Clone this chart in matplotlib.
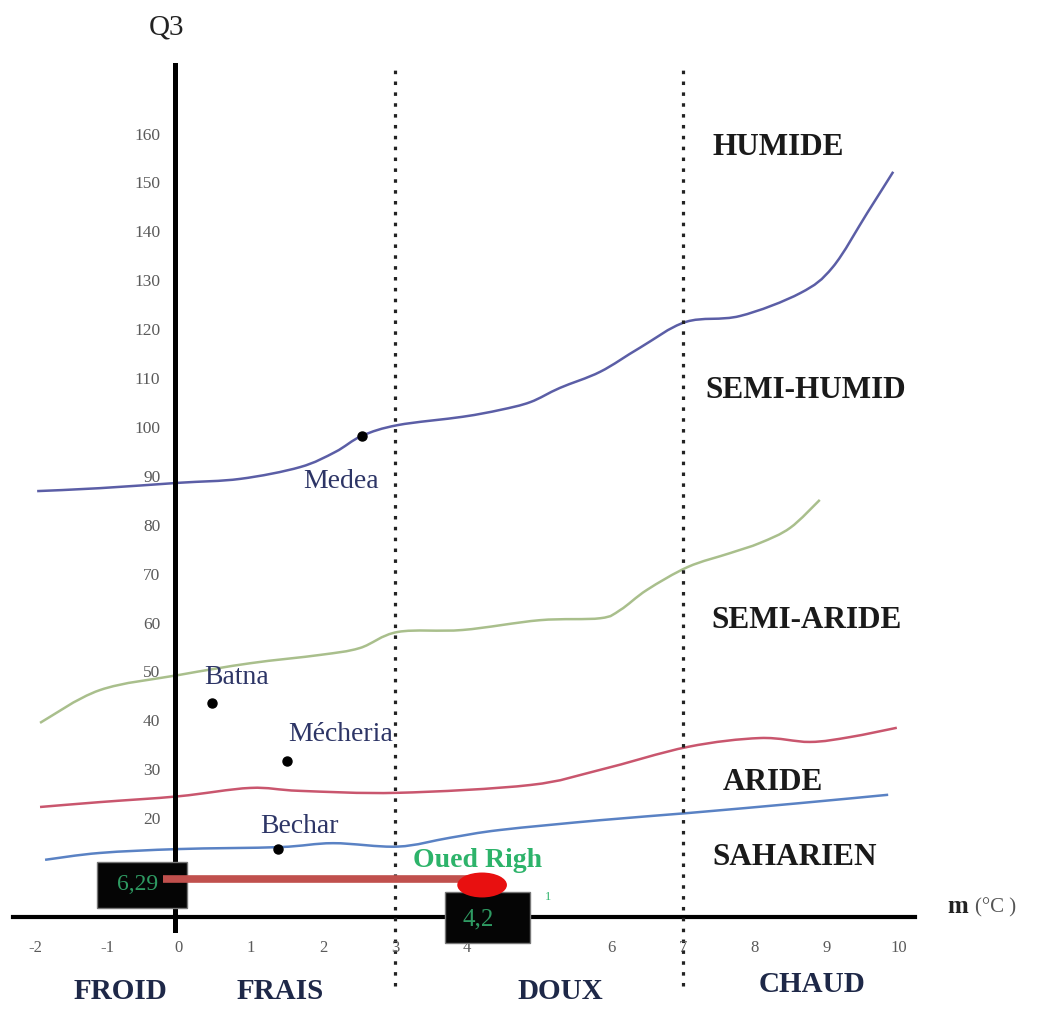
import numpy as np
import matplotlib.pyplot as plt
from matplotlib.patches import Rectangle, Ellipse, PathPatch
from matplotlib.path import Path

plt.rcParams['font.family'] = ['Liberation Serif', 'DejaVu Serif']

# courbes limites des etages (m en degres C, Q3)
humide_m = [-1.97, -1.1, 0, 0.85, 1.68, 2.17, 2.54, 3.04, 3.94, 4.46, 4.88, 5.29, 5.85, 6.4, 7.04, 7.79, 8.63, 9.08, 9.56, 9.92]
humide_q = [87.3, 87.9, 89.0, 89.8, 92.2, 95.3, 98.6, 100.8, 102.5, 103.9, 105.5, 108.4, 111.7, 116.6, 121.9, 123.1, 127.8, 133.1, 144.2, 152.6]

semi_m = [-1.93, -1.1, 0, 0.99, 1.96, 2.51, 3.04, 3.94, 5.01, 5.85, 6.13, 6.5, 7.07, 7.65, 8.07, 8.49, 8.9]
semi_q = [39.9, 46.6, 49.7, 52.1, 53.8, 55.2, 58.5, 58.9, 60.9, 61.3, 63.0, 67.1, 71.8, 74.6, 76.7, 79.8, 85.5]

aride_m = [-1.93, -1.1, 0, 0.99, 1.68, 3.04, 4.88, 5.85, 7.07, 8.07, 8.76, 9.32, 9.97]
aride_q = [22.7, 23.7, 24.9, 26.6, 26.0, 25.6, 27.2, 30.3, 35.0, 36.8, 36.0, 37.0, 38.9]

sahara_m = [-1.86, -1.1, 0, 1.4, 2.14, 3.04, 3.76, 4.46, 5.85, 7.1, 8.63, 9.85]
sahara_q = [11.9, 13.3, 14.1, 14.5, 15.3, 14.6, 16.4, 18.0, 20.0, 21.5, 23.5, 25.2]

# stations
stations = ['Medea', 'Batna', 'Mécheria', 'Bechar']
station_m = [2.54, 0.46, 1.5, 1.38]
station_q = [98.6, 44.0, 32.1, 14.1]

# Oued Righ
oued_m = 4.2
oued_q = 6.29

xticks = [-2, -1, 0, 1, 2, 3, 4, 6, 7, 8, 9, 10]
yticks = [20, 30, 40, 50, 60, 70, 80, 90, 100, 110, 120, 130, 140, 150, 160]


def courbe(ax, xs, ys, color):
    # trace lisse (bezier) passant par les points lus
    p = np.column_stack([xs, ys])
    verts = [tuple(p[0])]
    codes = [Path.MOVETO]
    for i in range(len(p) - 1):
        p0 = p[i - 1] if i > 0 else p[i]
        p3 = p[i + 2] if i + 2 < len(p) else p[i + 1]
        c1 = p[i] + (p[i + 1] - p0) / 6
        c2 = p[i + 1] - (p3 - p[i]) / 6
        verts += [tuple(c1), tuple(c2), tuple(p[i + 1])]
        codes += [Path.CURVE4] * 3
    ax.add_patch(PathPatch(Path(verts, codes), facecolor='none',
                           edgecolor=color, lw=1.8, zorder=2))


fig = plt.figure(figsize=(10.55, 10.09), dpi=100)
ax = fig.add_axes([0, 0, 1, 1])
ax.set_xlim(-2.486, 12.167)
ax.set_ylim(-18.61, 187.73)
ax.axis('off')

# courbes
courbe(ax, humide_m, humide_q, '#5b5ea6')
courbe(ax, semi_m, semi_q, '#a9bf8c')
courbe(ax, aride_m, aride_q, '#c9566e')
courbe(ax, sahara_m, sahara_q, '#5a82c4')

# axes
ax.plot([-2.31, 10.22], [0.3, 0.3], color='black', lw=3, zorder=3)
ax.plot([-0.06, -0.06], [-2.4, 174.4], color='black', lw=3.6, zorder=3)
for xv in [3, 7]:
    ax.plot([xv, xv], [-14, 174.4], color='#222222', lw=2.3,
            linestyle=(0, (1.1, 2.3)), zorder=3)

# graduations
for t in xticks:
    ax.text(t, -6.2, str(t), ha='center', va='center', fontsize=12,
            color='#5a5a5a', zorder=4)
for t in yticks:
    ax.text(-0.26, t, str(t), ha='right', va='center', fontsize=12.5,
            color='#5a5a5a', zorder=4)

ax.text(-0.17, 182.2, 'Q3', ha='center', va='center', fontsize=21, color='#222222')
ax.text(10.67, 2.25, 'm', ha='left', va='center', fontsize=18,
        fontweight='bold', color='#222222')
ax.text(11.05, 2.0, '(°C )', ha='left', va='center', fontsize=15, color='#555555')

# etages
zones = ['HUMIDE', 'SEMI-HUMID', 'SEMI-ARIDE', 'ARIDE', 'SAHARIEN']
zone_pos = [(8.33, 157.5), (8.71, 107.8), (8.72, 60.8), (8.25, 27.8), (8.55, 12.3)]
for z, (zx, zy) in zip(zones, zone_pos):
    ax.text(zx, zy, z, ha='center', va='center', fontsize=22.5,
            fontweight='bold', color='#1a1a1a')

# variantes thermiques
variantes = ['FROID', 'FRAIS', 'DOUX', 'CHAUD']
var_pos = [(-0.82, -15.1), (1.4, -15.1), (5.3, -15.1), (8.79, -13.7)]
for v, (vx, vy) in zip(variantes, var_pos):
    ax.text(vx, vy, v, ha='center', va='center', fontsize=21,
            fontweight='bold', color='#1e2848')

# stations
ax.plot(station_m, station_q, 'o', color='black', markersize=6.5, zorder=5)
lab_pos = [(2.25, 89.2), (0.8, 49.2), (2.24, 37.6), (1.68, 18.7)]
for s, (lx, ly) in zip(stations, lab_pos):
    ax.text(lx, ly, s, ha='center', va='center', fontsize=20, color='#2d3566', zorder=5)

# Oued Righ : boites, trait et point
ax.add_patch(Rectangle((-1.14, 2.04), 1.25, 9.41, facecolor='#050505',
                       edgecolor='#777777', lw=1, zorder=6))
ax.add_patch(Rectangle((3.69, -5.1), 1.19, 10.4, facecolor='#050505',
                       edgecolor='#777777', lw=1, zorder=6))
ax.plot([-0.22, oued_m], [7.9, 7.9], color='#c0504d', lw=5.5,
        solid_capstyle='butt', zorder=7)
ax.add_patch(Ellipse((oued_m + 0.01, 6.75), 0.69, 5.1, facecolor='#e81010',
                     edgecolor='none', zorder=8))
ax.text(-0.58, 6.9, '6,29', ha='center', va='center', fontsize=17,
        color='#2e9a62', zorder=8)
ax.text(4.15, -0.2, '4,2', ha='center', va='center', fontsize=18,
        color='#2e9a62', zorder=8)
ax.text(4.14, 11.7, 'Oued Righ', ha='center', va='center', fontsize=20,
        fontweight='bold', color='#2db36a', zorder=8)
ax.text(5.12, 4.3, '1', ha='center', va='center', fontsize=9, color='#2db36a')

fig.savefig('out.png', dpi=100, facecolor='white')
